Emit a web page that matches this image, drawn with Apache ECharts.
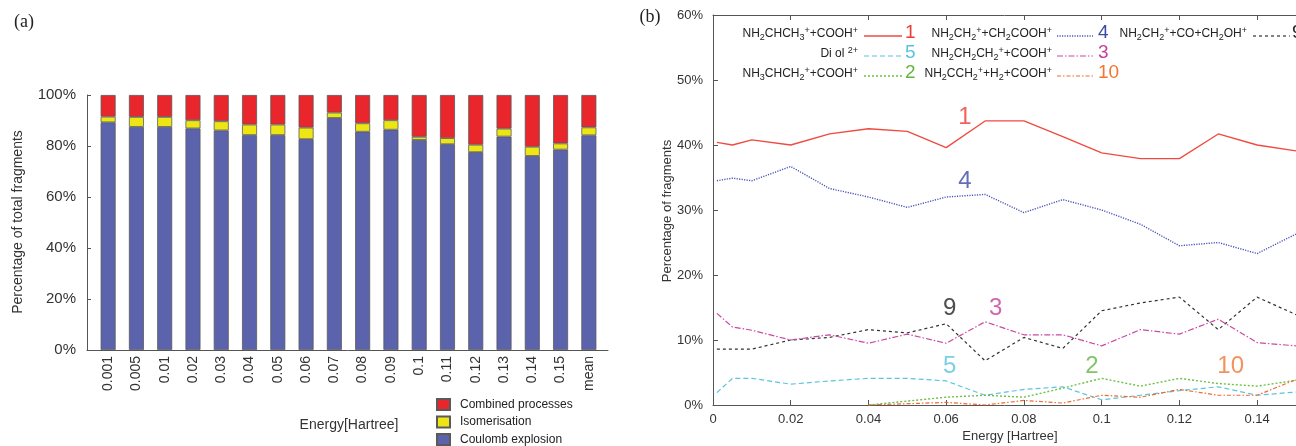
<!DOCTYPE html>
<html><head><meta charset="utf-8">
<script src="https://cdn.jsdelivr.net/npm/echarts@6/dist/echarts.min.js"></script>
<style>html,body{margin:0;padding:0;background:#fff}#c{width:1296px;height:446px}</style>
</head><body><div id="c"></div>
<script>
// ---------- panel (a) data ----------
const barCategories = ['0.001','0.005','0.01','0.02','0.03','0.04','0.05','0.06','0.07','0.08','0.09','0.1','0.11','0.12','0.13','0.14','0.15','mean'];
const coulombExplosion = [89.3, 87.5, 87.5, 86.9, 86.1, 84.3, 84.3, 82.7, 91.0, 85.6, 86.4, 82.4, 80.7, 77.6, 83.7, 76.1, 78.6, 84.2];
const isomerisation    = [2.2, 3.9, 3.9, 3.2, 3.6, 4.1, 4.1, 4.5, 2.1, 3.3, 3.7, 1.2, 2.4, 2.9, 3.1, 3.6, 2.4, 3.1];
const combinedProcesses= [8.5, 8.6, 8.6, 9.9, 10.3, 11.6, 11.6, 12.8, 6.9, 11.1, 9.9, 16.4, 16.9, 19.5, 13.2, 20.3, 19.0, 12.7];
const barSeriesNames = ['Combined processes', 'Isomerisation', 'Coulomb explosion'];

// ---------- panel (b) data ----------
const energies = [0.001, 0.005, 0.01, 0.02, 0.03, 0.04, 0.05, 0.06, 0.07, 0.08, 0.09, 0.1, 0.11, 0.12, 0.13, 0.14, 0.15];
const frag1  = [40.4, 40.0, 40.8, 40.0, 41.7, 42.5, 42.1, 39.6, 43.7, 43.7, 41.3, 38.8, 37.9, 37.9, 41.7, 40.0, 39.1];
const frag4  = [34.5, 34.9, 34.5, 36.7, 33.3, 32.0, 30.4, 32.0, 32.4, 29.6, 31.6, 30.0, 27.8, 24.5, 25.0, 23.3, 26.3];
const frag9  = [8.6, 8.6, 8.6, 10.0, 10.4, 11.6, 11.1, 12.5, 6.8, 10.4, 8.7, 14.5, 15.7, 16.6, 11.6, 16.6, 13.9];
const frag3  = [14.1, 12.0, 11.5, 10.0, 10.8, 9.5, 10.9, 9.5, 12.8, 10.8, 10.8, 9.1, 11.6, 10.9, 13.2, 9.6, 9.1];
const frag5  = [1.9, 4.1, 4.1, 3.2, 3.7, 4.1, 4.1, 3.7, 1.5, 2.4, 2.8, 0.8, 1.5, 2.2, 2.8, 1.5, 2.0];
const frag2  = [null, null, null, null, null, 0.0, 0.6, 1.2, 1.5, 1.2, 2.6, 4.1, 2.9, 4.1, 3.3, 2.9, 3.8];
const frag10 = [null, null, null, null, null, 0.0, 0.2, 0.4, 0.0, 0.7, 0.3, 1.5, 1.2, 2.4, 1.5, 1.5, 3.9];

const fragIds = ['1', '5', '2', '4', '3', '10', '9'];
const fragNames = [
  'NH{b|2}CHCH{b|3}{p|+}+COOH{p|+}',
  'Di ol {p|2+}',
  'NH{b|3}CHCH{b|2}{p|+}+COOH{p|+}',
  'NH{b|2}CH{b|2}{p|+}+CH{b|2}COOH{p|+}',
  'NH{b|2}CH{b|2}CH{b|2}{p|+}+COOH{p|+}',
  'NH{b|2}CCH{b|2}{p|+}+H{b|2}+COOH{p|+}',
  'NH{b|2}CH{b|2}{p|+}+CO+CH{b|2}OH{p|+}'
];
const fragData = { '1': frag1, '5': frag5, '2': frag2, '4': frag4, '3': frag3, '10': frag10, '9': frag9 };

// in-plot number annotations (data coordinates)
const annoIds = ['1', '4', '9', '3', '5', '2', '10'];
const annoX   = [0.0648, 0.0648, 0.0609, 0.0727, 0.0609, 0.0975, 0.1332];
const annoY   = [44.3, 34.4, 14.8, 14.8, 6.0, 6.0, 6.0];

// ---------- styles ----------
const FONT = 'Liberation Sans';
const barColors = { 'Combined processes': '#e8262b', 'Isomerisation': '#eee614', 'Coulomb explosion': '#5b63ad' };
const fragStyle = {
  '1':  { line: '#f04a40', text: '#f03a36', dash: 'solid', w: 1.3 },
  '4':  { line: '#4a55b8', text: '#3a4aa6', dash: [1.2, 1.3], w: 1.4 },
  '9':  { line: '#333333', text: '#222222', dash: [3, 3], w: 1.2 },
  '3':  { line: '#c84aa2', text: '#c63e98', dash: [6, 2, 1.5, 2], w: 1.2 },
  '5':  { line: '#5cc4e0', text: '#5ac3dc', dash: [5, 3], w: 1.2 },
  '2':  { line: '#6cc044', text: '#64b441', dash: [2, 2], w: 1.4 },
  '10': { line: '#f06a30', text: '#f07632', dash: [4, 2, 1.5, 2], w: 1.2 }
};

const chart = echarts.init(document.getElementById('c'), null, { renderer: 'canvas' });

const series = [];
// bars: bottom to top
[['Coulomb explosion', coulombExplosion], ['Isomerisation', isomerisation], ['Combined processes', combinedProcesses]]
  .forEach(([name, data]) => {
    series.push({
      type: 'bar', name, data, stack: 'total', xAxisIndex: 1, yAxisIndex: 1,
      barWidth: 15,
      itemStyle: { color: barColors[name], borderColor: '#5a5a5a', borderWidth: 0.8 },
      emphasis: { disabled: true }
    });
  });

// lines
['9', '3', '5', '2', '10', '4', '1'].forEach(id => {
  const st = fragStyle[id];
  const pts = [];
  energies.forEach((e, i) => { if (fragData[id][i] !== null) pts.push([e, fragData[id][i]]); });
  series.push({
    type: 'line', name: 'frag' + id, data: pts, xAxisIndex: 2, yAxisIndex: 2,
    symbol: 'none', silent: true,
    lineStyle: { color: st.line, width: st.w, type: st.dash }
  });
});

// number annotations
series.push({
  type: 'scatter', name: 'annotations', xAxisIndex: 2, yAxisIndex: 2, symbolSize: 1, silent: true,
  itemStyle: { color: 'transparent' }, z: 10,
  data: annoIds.map((t, i) => ({ name: t, value: [annoX[i], annoY[i]], label: { color: fragStyle[t].text } })),
  label: { show: true, position: 'inside', formatter: '{b}', fontSize: 24, fontFamily: FONT }
});

// graphic legend for panel (b)
const graphic = [];
const legendCols = [
  { textRight: 858, x1: 864, x2: 902, num: 905 },
  { textRight: 1052, x1: 1057, x2: 1093, num: 1098 },
  { textRight: 1247, x1: 1253, x2: 1290, num: 1292 }
];
const rowsY = [34, 54, 74];
const rich = {
  b: { fontSize: 9, lineHeight: 9, verticalAlign: 'bottom', fontFamily: FONT, fill: '#222' },
  p: { fontSize: 9, lineHeight: 9, verticalAlign: 'top', fontFamily: FONT, fill: '#222' }
};
fragIds.forEach((id, k) => {
  const col = legendCols[Math.floor(k / 3)];
  const y = rowsY[k % 3];
  const st = fragStyle[id];
  graphic.push({
    type: 'text', x: col.textRight, y: y, z: 20,
    style: { text: fragNames[k], rich, fontSize: 12, lineHeight: 16, fontFamily: FONT, fill: '#222', align: 'right', verticalAlign: 'middle' }
  });
  graphic.push({
    type: 'line', z: 20, shape: { x1: col.x1, y1: y + 2, x2: col.x2, y2: y + 2 },
    style: { stroke: st.line, lineWidth: st.w, lineDash: st.dash === 'solid' ? null : st.dash }
  });
  graphic.push({
    type: 'text', x: col.num, y: y - 1, z: 20,
    style: { text: id, fontSize: 19, fontFamily: FONT, fill: st.text, align: 'left', verticalAlign: 'middle' }
  });
});

// titles & panel letters
graphic.push(
  { type: 'text', x: 24, y: 22, style: { text: '(a)', font: '18px "Liberation Serif"', fill: '#222', align: 'center', verticalAlign: 'middle' } },
  { type: 'text', x: 650, y: 17, style: { text: '(b)', font: '18px "Liberation Serif"', fill: '#222', align: 'center', verticalAlign: 'middle' } },
  { type: 'text', x: 18, y: 222, rotation: Math.PI / 2, style: { text: 'Percentage of total fragments', fontSize: 14, fontFamily: FONT, fill: '#333', align: 'center', verticalAlign: 'middle' } },
  { type: 'text', x: 349, y: 425, style: { text: 'Energy[Hartree]', fontSize: 14, fontFamily: FONT, fill: '#333', align: 'center', verticalAlign: 'middle' } },
  { type: 'text', x: 667, y: 211, rotation: Math.PI / 2, style: { text: 'Percentage of fragments', fontSize: 13, fontFamily: FONT, fill: '#333', align: 'center', verticalAlign: 'middle' } },
  { type: 'text', x: 1010, y: 436, style: { text: 'Energy [Hartree]', fontSize: 13, fontFamily: FONT, fill: '#333', align: 'center', verticalAlign: 'middle' } }
);

const axisCol = '#555';
const option = {
  animation: false,
  backgroundColor: '#fff',
  textStyle: { fontFamily: FONT },
  grid: [
    { left: 87, right: 688, top: 95, bottom: 96 },
    { left: 94, right: 693, top: 95, bottom: 96 },
    { left: 713, right: -9.5, top: 15, bottom: 41 }
  ],
  legend: {
    data: barSeriesNames, orient: 'vertical', left: 436, top: 398, height: 80, padding: 0,
    itemWidth: 13, itemHeight: 11, itemGap: 4.5,
    selectedMode: false,
    textStyle: { fontSize: 12, fontFamily: FONT, color: '#222', lineHeight: 12, padding: [0, 0, 0, 5] },
    icon: 'rect'
  },
  xAxis: [
    { gridIndex: 0, type: 'value', min: 0, max: 1, axisLine: { show: true, onZero: false, lineStyle: { color: axisCol } },
      axisTick: { show: false }, axisLabel: { show: false }, splitLine: { show: false } },
    { gridIndex: 1, type: 'category', data: barCategories, axisLine: { show: false }, axisTick: { show: false },
      axisLabel: { rotate: 90, interval: 0, fontSize: 14, margin: 6, color: '#333', fontFamily: FONT }, splitLine: { show: false } },
    { gridIndex: 2, type: 'value', min: 0, max: 0.15, interval: 0.02,
      axisLine: { show: true, onZero: false, lineStyle: { color: axisCol } },
      axisTick: { show: true, inside: true, length: 5, lineStyle: { color: axisCol } },
      axisLabel: { fontSize: 13, margin: 8, color: '#333', showMaxLabel: false, fontFamily: FONT,
        formatter: v => (v === 0 ? '0' : String(+v.toFixed(2))) },
      splitLine: { show: false } },
    { gridIndex: 2, type: 'value', position: 'top', min: 0, max: 0.15, interval: 0.02,
      axisLine: { show: true, onZero: false, lineStyle: { color: axisCol } },
      axisTick: { show: true, inside: true, length: 5, lineStyle: { color: axisCol } },
      axisLabel: { show: false }, splitLine: { show: false } }
  ],
  yAxis: [
    { gridIndex: 0, type: 'value', min: 0, max: 100, interval: 20,
      axisLine: { show: true, onZero: false, lineStyle: { color: axisCol } },
      axisTick: { show: true, inside: true, length: 4, lineStyle: { color: axisCol } },
      axisLabel: { formatter: '{value}%', fontSize: 15, margin: 11, color: '#333', fontFamily: FONT },
      splitLine: { show: false } },
    { gridIndex: 1, type: 'value', min: 0, max: 100, show: false, splitLine: { show: false } },
    { gridIndex: 2, type: 'value', min: 0, max: 60, interval: 10,
      axisLine: { show: true, onZero: false, lineStyle: { color: axisCol } },
      axisTick: { show: true, inside: true, length: 5, lineStyle: { color: axisCol } },
      axisLabel: { formatter: '{value}%', fontSize: 13, margin: 10, color: '#333', fontFamily: FONT },
      splitLine: { show: false } }
  ],
  series,
  graphic
};
chart.setOption(option);
</script>
</body></html>
